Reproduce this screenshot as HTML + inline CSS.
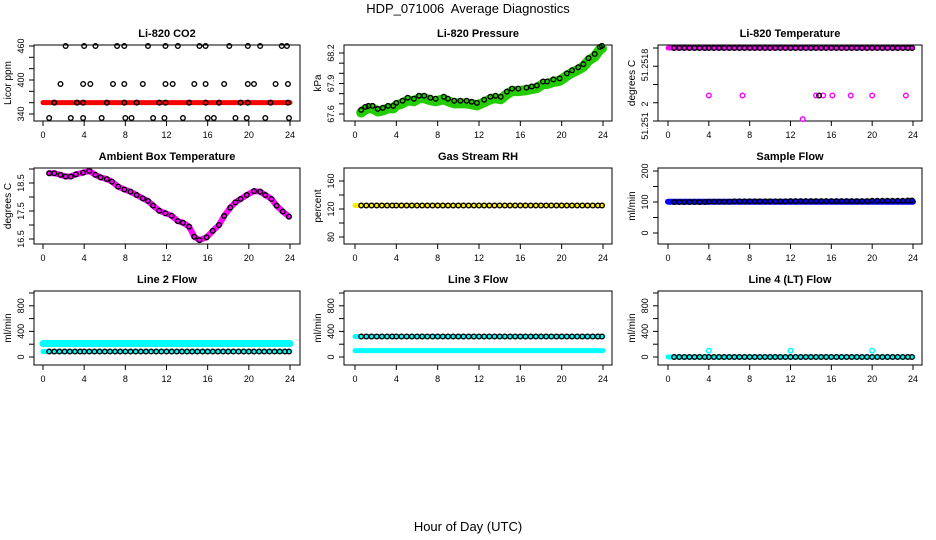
<!DOCTYPE html>
<html><head><meta charset="utf-8">
<style>
html,body{margin:0;padding:0;background:#fff;}
svg{display:block;font-family:"Liberation Sans",sans-serif;}
</style></head>
<body>
<svg id="chart" width="936" height="540" viewBox="0 0 936 540" xmlns="http://www.w3.org/2000/svg">
<text x="468" y="13" font-size="13" text-anchor="middle" style="white-space:pre">HDP_071006  Average Diagnostics</text>
<text x="468" y="531" font-size="13" text-anchor="middle">Hour of Day (UTC)</text>
</svg>
<script>
// ---------- data ----------
var xTicks = [0,4,8,12,16,20,24];
// CO2 black points rows
var co2Hours = [2.2,4.0,5.1,7.2,7.9,10.2,11.9,13.1,15.2,15.8,18.1,19.9,21.1,23.2,23.7,
                1.7,3.9,4.6,6.8,7.9,9.7,11.9,12.6,14.7,15.8,17.6,19.9,20.5,22.6,23.8,
                1.1,3.3,3.9,6.2,7.9,9.1,11.3,11.9,14.2,15.8,17.1,19.2,19.9,22.1,23.8,
                0.6,2.7,3.9,5.7,8.0,8.6,10.7,11.8,13.6,16.0,16.6,18.7,19.8,21.6,23.9];
var co2Values = [460,460,460,460,460,460,460,460,460,460,460,460,460,460,460,
                 393,393,393,393,393,393,393,393,393,393,393,393,393,393,393,
                 360,360,360,360,360,360,360,360,360,360,360,360,360,360,360,
                 333,333,333,333,333,333,333,333,333,333,333,333,333,333,333];
var co2Band = [0, 24, 360];
// Pressure
var presHours = [0.6,1.0,1.3,1.7,2.2,2.7,3.2,3.7,4.0,4.6,5.1,5.7,6.2,6.7,7.3,7.8,8.6,9.0,9.6,10.2,10.8,11.3,11.8,12.5,13.1,13.6,14.1,14.7,15.2,15.8,16.6,17.1,17.6,18.2,18.6,19.2,19.8,20.5,21.0,21.6,22.1,22.6,23.2,23.7,23.9];
var presValues = [67.64,67.67,67.68,67.68,67.65,67.66,67.68,67.68,67.71,67.73,67.76,67.75,67.78,67.78,67.76,67.75,67.77,67.75,67.73,67.73,67.73,67.72,67.71,67.74,67.77,67.78,67.77,67.82,67.85,67.85,67.86,67.87,67.88,67.92,67.92,67.94,67.95,68.00,68.03,68.06,68.09,68.15,68.19,68.26,68.27];
// Li-820 temperature
var tempOutHours = [4.0,7.3,14.5,15.2,16.1,17.9,20.0,23.3,13.2];
var tempOutValues = [51.25128,51.25128,51.25128,51.25128,51.25128,51.25128,51.25128,51.25128,51.25102];
var tempTopValue = 51.2518;
var tempBlackOutHour = [14.8];
// Ambient box temperature
var ambHours = [0.6,1.1,1.7,2.2,2.7,3.2,3.9,4.5,5.1,5.6,6.2,6.7,7.3,7.9,8.5,9.1,9.7,10.2,10.7,11.3,11.9,12.5,13.1,13.6,14.2,14.7,15.2,15.9,16.5,17.1,17.6,18.2,18.7,19.2,19.8,20.5,21.1,21.6,22.2,22.7,23.3,23.9];
var ambValues = [18.85,18.85,18.79,18.73,18.73,18.81,18.87,18.93,18.79,18.70,18.64,18.55,18.37,18.27,18.19,18.07,17.95,17.86,17.69,17.51,17.42,17.33,17.14,17.08,16.94,16.58,16.46,16.56,16.79,17.0,17.32,17.62,17.81,17.93,18.07,18.21,18.19,18.07,17.93,17.69,17.48,17.30];
// regular black sampling hours for flat series
var flatHours = [0.6,1.1,1.6,2.1,2.6,3.1,3.6,4.0,4.5,5.0,5.5,6.0,6.5,7.0,7.5,8.0,8.5,9.0,9.5,10.0,10.5,11.0,11.5,12.0,12.5,13.0,13.5,14.0,14.5,15.0,15.5,16.0,16.5,17.0,17.5,18.0,18.5,19.0,19.5,20.0,20.5,21.0,21.5,22.0,22.5,23.0,23.5,23.9];
var rhValues = [125,125,125,125,125,125,125,125,125,125,125,125,125,125,125,125,125,125,125,125,125,125,125,125,125,125,125,125,125,125,125,125,125,125,125,125,125,125,125,125,125,125,125,125,125,125,125,125];
var rhBand = [0, 24, 125];
var sfValues = [100,100,100,100,100,100,100,101,101,101,101,101,102,102,102,102,102,102,102,102,102,102,102,103,103,103,103,103,103,103,103,103,103,103,103,103,103,103,103,104,104,104,104,104,104,104,105,105];
var sfBand = [0, 24, 101];
var l2Values = [85,85,85,85,85,85,85,85,85,85,85,85,85,85,85,85,85,85,85,85,85,85,85,85,85,85,85,85,85,85,85,85,85,85,85,85,85,85,85,85,85,85,85,85,85,85,85,85];
var l2BandHigh = [0, 24, 210];
var l2BandLow = [0, 24, 85];
var l3Values = [320,320,320,320,320,320,320,320,320,320,320,320,320,320,320,320,320,320,320,320,320,320,320,320,320,320,320,320,320,320,320,320,320,320,320,320,320,320,320,320,320,320,320,320,320,320,320,320];
var l3BandHigh = [0, 24, 320];
var l3BandLow = [0, 24, 100];
var l4Values = [0,0,0,0,0,0,0,0,0,0,0,0,0,0,0,0,0,0,0,0,0,0,0,0,0,0,0,0,0,0,0,0,0,0,0,0,0,0,0,0,0,0,0,0,0,0,0,0];
var l4OutHours = [4.0,12.0,20.0];
var l4OutValues = [100,100,100];

// ---------- drawing ----------
var NS = "http://www.w3.org/2000/svg";
var svg = document.getElementById('chart');
function mk(tag, attrs, parent){
  var e = document.createElementNS(NS, tag);
  for (var k in attrs) e.setAttribute(k, attrs[k]);
  (parent||svg).appendChild(e); return e;
}
var cols = [{l:34,r:300,x0:43,x24:290},{l:344,r:612,x0:355,x24:603},{l:658,r:922,x0:668,x24:913}];
var rows = [{t:45,b:121},{t:168,b:244},{t:291,b:365}];

function panel(name, ci, ri, title, ylabel, yTicks, yLabels, v1, p1, v2, p2){
  var c = cols[ci], r = rows[ri];
  var g = mk('g', {});
  
  
  var xs = function(h){ return c.x0 + (h/24)*(c.x24-c.x0); };
  var ys = function(v){ return p1 + (v-v1)/(v2-v1)*(p2-p1); };
  var t = mk('text', {x:(c.l+c.r)/2, y:r.t-8, 'font-size':11, 'font-weight':'bold','text-anchor':'middle'}, g);
  t.textContent = title;
  
  
  var box = mk('rect', {x:c.l, y:r.t, width:c.r-c.l, height:r.b-r.t, fill:'none', stroke:'#000', 'stroke-width':1}, g);
  
  
  xTicks.forEach(function(h){
    var x = xs(h);
    mk('line', {x1:x, x2:x, y1:r.b, y2:r.b+5, stroke:'#000'}, g);
    var tl = mk('text', {x:x, y:r.b+17, 'font-size':9, 'text-anchor':'middle'}, g);
    tl.textContent = h;
    
    
  });
  yTicks.forEach(function(v){
    var y = ys(v);
    mk('line', {x1:c.l, x2:c.l-5, y1:y, y2:y, stroke:'#000'}, g);
  });
  yLabels.forEach(function(lb){
    var y = ys(lb[0]);
    var tx = mk('text', {x:0, y:0, 'font-size':9, 'text-anchor':'middle', transform:'translate('+(c.l-10)+','+(lb[2]!==undefined?lb[2]:y)+') rotate(-90)'}, g);
    tx.textContent = lb[1];
    
    
  });
  var yl = mk('text', {x:0, y:0, 'font-size':10, 'text-anchor':'middle', transform:'translate('+(c.l-23)+','+((r.t+r.b)/2)+') rotate(-90)'}, g);
  yl.textContent = ylabel;
  
  
  return {g:g, xs:xs, ys:ys};
}
function band(P, b, color, w, nm){
  var e = mk('line', {x1:P.xs(b[0]), x2:P.xs(b[1]), y1:P.ys(b[2]), y2:P.ys(b[2]), stroke:color, 'stroke-width':w, 'stroke-linecap':'round'}, P.g);
  
  
}
function poly(P, hs, vs, color, w, off, nm){
  var pts = hs.map(function(h,i){ return P.xs(h)+','+P.ys(vs[i]+off); }).join(' ');
  var e = mk('polyline', {points:pts, fill:'none', stroke:color, 'stroke-width':w, 'stroke-linecap':'round','stroke-linejoin':'round'}, P.g);
  
  
}
function circles(P, hs, vs, color, nm){
  hs.forEach(function(h,i){
    var e = mk('circle', {cx:P.xs(h), cy:P.ys(vs[i]), r:2.3, fill:'none', stroke:color, 'stroke-width':1.4}, P.g);
    
    
  });
}

// CO2
var P = panel('co2', 0, 0, 'Li-820 CO2', 'Licor ppm', [340,360,380,400,420,440,460], [[340,'340'],[400,'400'],[460,'460']], 340, 114, 460, 46);
band(P, co2Band, '#ff0000', 5, 'co2-red-band');
circles(P, co2Hours, co2Values, '#000', 'co2-point');
// Pressure
P = panel('pressure', 1, 0, 'Li-820 Pressure', 'kPa', [67.6,67.7,67.8,67.9,68.0,68.1,68.2], [[67.6,'67.6'],[67.9,'67.9'],[68.2,'68.2']], 67.6, 114, 68.2, 53);
poly(P, presHours, presValues, '#22cc00', 10, -0.025, 'pressure-green-band');
circles(P, presHours, presValues, '#000', 'pressure-point');
// Li-820 temperature
P = panel('li820-temp', 2, 0, 'Li-820 Temperature', 'degrees C', [51.2510,51.2512,51.2514,51.2516,51.2518], [[51.2518,'51.2518',65],[51.2512,'2',104],[51.2510,'51.251',126]], 51.2510, 121, 51.2518, 48);
band(P, [0,24,tempTopValue], '#ff00ff', 5, 'li820-temp-magenta-band');
circles(P, flatHours, flatHours.map(function(){return tempTopValue;}), '#000', 'li820-temp-point');
circles(P, tempOutHours, tempOutValues, '#ff00ff', 'li820-temp-outlier');
circles(P, tempBlackOutHour, [tempOutValues[0]], '#000', 'li820-temp-black-outlier');
// Ambient
P = panel('ambient-temp', 0, 1, 'Ambient Box Temperature', 'degrees C', [16.5,17,17.5,18,18.5,19], [[16.5,'16.5'],[17.5,'17.5'],[18.5,'18.5']], 16.5, 239, 19, 169);
poly(P, ambHours, ambValues, '#ff00ff', 6, 0, 'ambient-magenta-band');
circles(P, ambHours, ambValues, '#000', 'ambient-point');
// RH
P = panel('gas-rh', 1, 1, 'Gas Stream RH', 'percent', [80,100,120,140,160], [[80,'80'],[120,'120'],[160,'160']], 80, 237, 160, 181);
band(P, rhBand, '#ffee00', 5, 'rh-yellow-band');
circles(P, flatHours, rhValues, '#000', 'rh-point');
// Sample flow
P = panel('sample-flow', 2, 1, 'Sample Flow', 'ml/min', [0,50,100,150,200], [[0,'0'],[100,'100'],[200,'200']], 0, 233, 200, 171);
band(P, sfBand, '#0000ff', 6, 'sample-flow-blue-band');
circles(P, flatHours, sfValues, '#000', 'sample-flow-point');
// Line flows
var flowTicks = [0,200,400,600,800,1000];
var flowLabels = [[0,'0'],[400,'400'],[800,'800']];
P = panel('line2-flow', 0, 2, 'Line 2 Flow', 'ml/min', flowTicks, flowLabels, 0, 357, 1000, 293);
band(P, l2BandHigh, '#00ffff', 7, 'line2-cyan-high');
band(P, l2BandLow, '#00ffff', 5, 'line2-cyan-low');
circles(P, flatHours, l2Values, '#000', 'line2-point');
P = panel('line3-flow', 1, 2, 'Line 3 Flow', 'ml/min', flowTicks, flowLabels, 0, 357, 1000, 293);
band(P, l3BandHigh, '#00ffff', 5, 'line3-cyan-high');
band(P, l3BandLow, '#00ffff', 5, 'line3-cyan-low');
circles(P, flatHours, l3Values, '#000', 'line3-point');
P = panel('line4-flow', 2, 2, 'Line 4 (LT) Flow', 'ml/min', flowTicks, flowLabels, 0, 357, 1000, 293);
band(P, [0,24,0], '#00ffff', 5, 'line4-cyan-band');
circles(P, flatHours, l4Values, '#000', 'line4-point');
circles(P, l4OutHours, l4OutValues, '#00ffff', 'line4-outlier');
</script>
</body></html>
